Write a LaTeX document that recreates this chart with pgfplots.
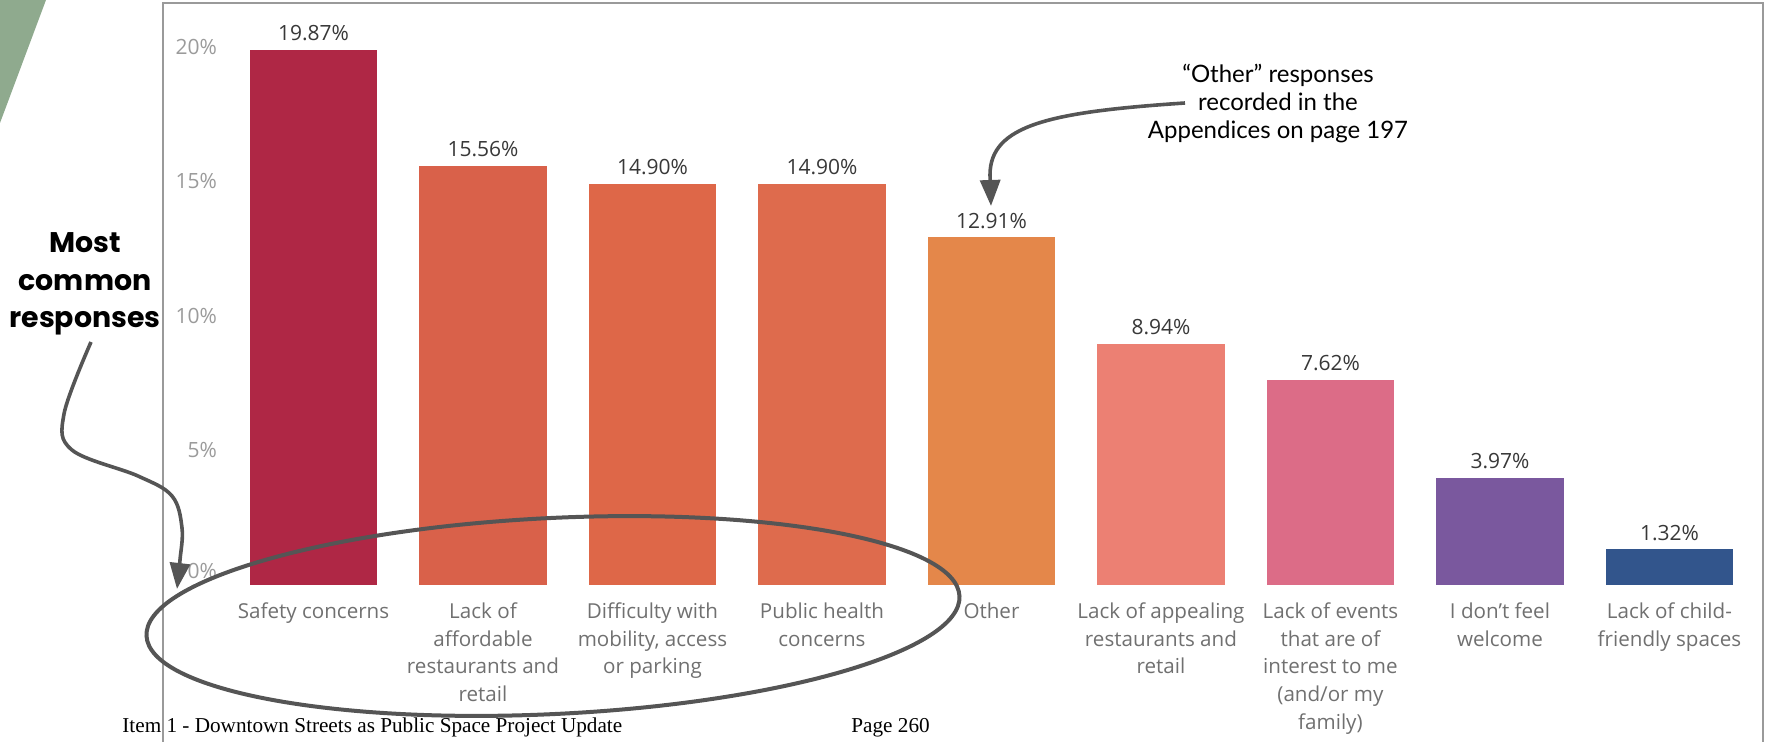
\documentclass[border=0pt]{standalone}
\usepackage{fontspec}
\usepackage{pgfplots}
\pgfplotsset{compat=1.18}
\usetikzlibrary{arrows.meta}
\setmainfont{Open Sans}
\newfontfamily\annot{Lato}
\newfontfamily\annotb{Poppins}
\newfontfamily\footfont{Liberation Serif}
\definecolor{c1}{HTML}{AF2745}
\definecolor{c2}{HTML}{D9614A}
\definecolor{c3}{HTML}{DE6748}
\definecolor{c4}{HTML}{DE6B4D}
\definecolor{c5}{HTML}{E4874A}
\definecolor{c6}{HTML}{EC8073}
\definecolor{c7}{HTML}{DC6C87}
\definecolor{c8}{HTML}{7A589E}
\definecolor{c9}{HTML}{32558C}
\definecolor{ticky}{HTML}{9B9B9B}
\definecolor{tickx}{HTML}{707070}
\definecolor{vallab}{HTML}{383838}
\definecolor{arrowc}{HTML}{555555}
\definecolor{framec}{HTML}{9A9A9A}
\definecolor{greenc}{HTML}{8FAA8E}
\begin{document}
\begin{tikzpicture}
\begin{scope}[x=0.5pt,y=-0.5pt]
\useasboundingbox (0,0) rectangle (1767,742);
\fill[greenc] (0,0) -- (46,0) -- (0,123) -- cycle;
\draw[framec, line width=0.75pt] (163,742) -- (163,3) -- (1763,3) -- (1763,742);
\end{scope}
\begin{axis}[
  at={(81.5pt,-292.5pt)}, anchor=south west,
  scale only axis, width=800pt, height=291pt,
  xmin=-0.888, xmax=8.552, ymin=0, ymax=21.62,
  enlargelimits=false, clip=false,
  axis line style={draw=none},
  major tick length=0pt,
  ybar, bar width=0.75, bar shift=0pt,
  xtick={0,1,2,3,4,5,6,7,8},
  xticklabels={{Safety concerns},{Lack of\\affordable\\restaurants and\\retail},{Difficulty with\\mobility, access\\or parking},{Public health\\concerns},{Other},{Lack of appealing\\restaurants and\\retail},{Lack of events\\that are of\\interest to me\\(and/or my\\family)},{I don't feel\\welcome},{Lack of child-\\friendly spaces}},
  xticklabel style={anchor=north, align=center, yshift=-5.3pt, text=tickx, font=\fontsize{10.3}{13.85}\selectfont},
  ytick={0,5,10,15,20},
  yticklabels={\raisebox{7pt}{0\%},5\%,10\%,15\%,20\%},
  yticklabel style={anchor=base east, xshift=30.5pt, yshift=-3.7pt, text=ticky, font=\fontsize{10.5}{12}\selectfont},
  nodes near coords={\pgfmathprintnumber[fixed,fixed zerofill,precision=2,assume math mode=true]{\pgfplotspointmeta}\%},
  nodes near coords style={anchor=south, yshift=1pt, text=vallab, font=\fontsize{10.5}{12}\selectfont},
]
\addplot[fill=c1, draw=none] coordinates {(0,19.87)};
\addplot[fill=c2, draw=none] coordinates {(1,15.56)};
\addplot[fill=c3, draw=none] coordinates {(2,14.90)};
\addplot[fill=c4, draw=none] coordinates {(3,14.90)};
\addplot[fill=c5, draw=none] coordinates {(4,12.91)};
\addplot[fill=c6, draw=none] coordinates {(5,8.94)};
\addplot[fill=c7, draw=none] coordinates {(6,7.62)};
\addplot[fill=c8, draw=none] coordinates {(7,3.97)};
\addplot[fill=c9, draw=none] coordinates {(8,1.32)};
\end{axis}
\begin{scope}[x=0.5pt,y=-0.5pt]
% annotations
\node[anchor=base, align=center, font=\annotb\bfseries\fontsize{14.2}{18.75}\selectfont] at (85,328) {Most\\common\\responses};
\node[align=center, font=\annot\fontsize{12}{14}\selectfont] at (1278,104) {“Other” responses\\recorded in the\\Appendices on page 197};
\draw[arrowc, line width=1.8pt, -{Triangle[length=13pt,width=10pt]}]
  plot[smooth, tension=0.6] coordinates {(91,342) (64,414) (72,450) (138,476) (172,496) (182,528) (180,560) (177,589)};
\draw[arrowc, line width=1.8pt, -{Triangle[length=13pt,width=10pt]}]
  (1185,103) .. controls (1050,112) and (990,125) .. (990,175) -- (991,206);
\draw[arrowc, line width=2pt, rotate around={2.8:(553,616)}] (553,616) ellipse (407 and 98);
\node[anchor=base west, inner sep=0pt, font=\footfont\fontsize{10.6}{12}\selectfont] at (122,733) {Item 1 - Downtown Streets as Public Space Project Update};
\node[anchor=base west, inner sep=0pt, font=\footfont\fontsize{10.6}{12}\selectfont] at (851,733) {Page 260};
\end{scope}
\end{tikzpicture}
\end{document}
